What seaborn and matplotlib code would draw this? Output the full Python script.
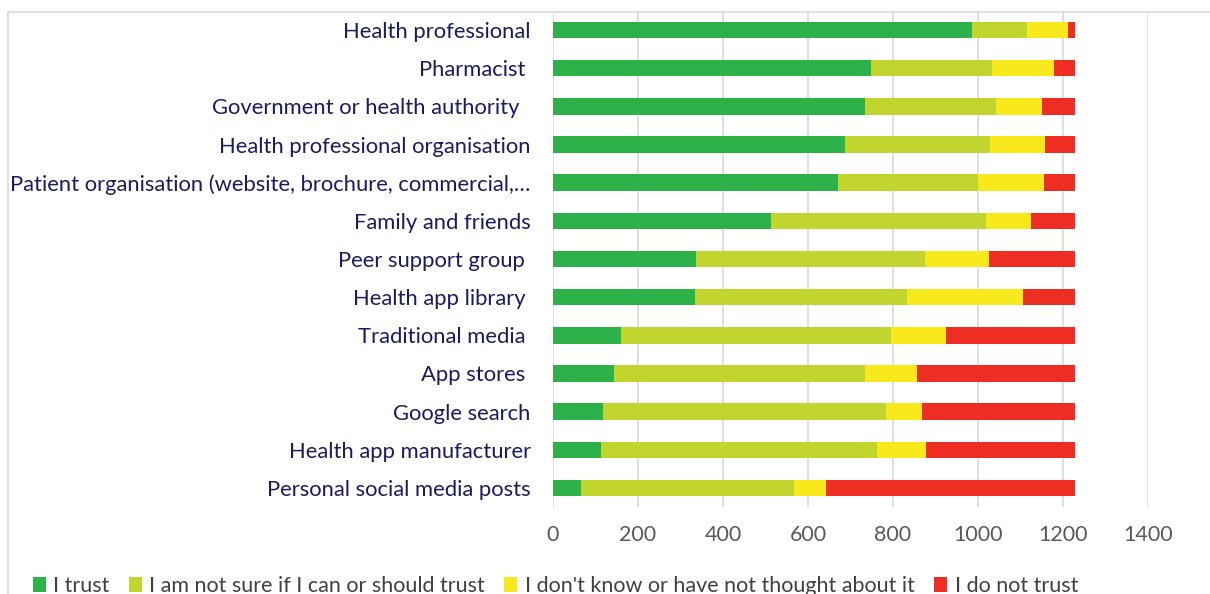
import matplotlib
matplotlib.use("Agg")
import matplotlib.pyplot as plt
from matplotlib.patches import Patch, Rectangle
import seaborn as sns
import numpy as np
import pandas as pd

categories = [
    "Health professional",
    "Pharmacist ",
    "Government or health authority  ",
    "Health professional organisation",
    "Patient organisation (website, brochure, commercial,\u2026",
    "Family and friends",
    "Peer support group ",
    "Health app library ",
    "Traditional media ",
    "App stores ",
    "Google search",
    "Health app manufacturer",
    "Personal social media posts",
]
trust =     [986, 749, 735, 687, 671, 512, 337, 334, 160, 143, 117, 113, 65]
not_sure =  [130, 283, 308, 342, 329, 506, 539, 499, 636, 592, 667, 649, 502]
dont_know = [96, 146, 108, 129, 156, 106, 150, 272, 129, 122, 84, 115, 75]
distrust =  [16, 50, 77, 70, 72, 104, 202, 123, 303, 371, 360, 351, 586]

series_names = ["I trust", "I am not sure if I can or should trust",
                "I don't know or have not thought about it", "I do not trust"]
colors = ["#2DB24A", "#C2D52F", "#F7E91B", "#EE2E24"]
xticks = [0, 200, 400, 600, 800, 1000, 1200, 1400]

sns.set_theme(style="white")
plt.rcParams["font.family"] = ["Lato", "DejaVu Sans"]

fig = plt.figure(figsize=(12.10, 5.94), dpi=100)
W, H = 1210, 594
left, right, top, bottom = 553, 1148, 11, 507
ax = fig.add_axes([left / W, 1 - bottom / H, (right - left) / W, (bottom - top) / H])

df = pd.DataFrame({"cat": categories, "s0": trust, "s1": not_sure, "s2": dont_know, "s3": distrust})
cum = df[["s0", "s1", "s2", "s3"]].cumsum(axis=1)
for i in range(3, -1, -1):
    sns.barplot(x=cum.iloc[:, i], y=df["cat"], orient="h", color=colors[i],
                width=0.43, ax=ax, saturation=1, edgecolor="none", linewidth=0)

ax.set_xlim(0, 1400)
ax.set_ylim(12.5, -0.5)
ax.set_xticks(xticks)
ax.set_xticklabels([str(t) for t in xticks], fontsize=15.5, color="#595959")
ax.tick_params(axis="x", length=0, pad=13)
ax.tick_params(axis="y", length=0, pad=16)
for lab in ax.get_yticklabels():
    lab.set_fontsize(15.8)
    lab.set_color("#1B1B5E")
ax.set_xlabel("")
ax.set_ylabel("")
ax.grid(axis="x", color="#D9D9D9", linewidth=1.2)
ax.set_axisbelow(True)
for s in ax.spines.values():
    s.set_visible(False)

# chart border
fig.add_artist(Rectangle((8 / W, -0.1), 1.2, 1 - 12 / H + 0.1, transform=fig.transFigure,
                         fill=False, edgecolor="#D9D9D9", linewidth=1.2))

handles = [Patch(facecolor=c, edgecolor="none") for c in colors]
fig.legend(handles, series_names, loc="center left", bbox_to_anchor=(24 / W, 1 - 586 / H),
           ncol=4, frameon=False, fontsize=15.5, handlelength=0.6, handleheight=0.75,
           handletextpad=0.35, columnspacing=0.9, labelcolor="#404040", borderaxespad=0)

fig.savefig("out.png", dpi=100)
